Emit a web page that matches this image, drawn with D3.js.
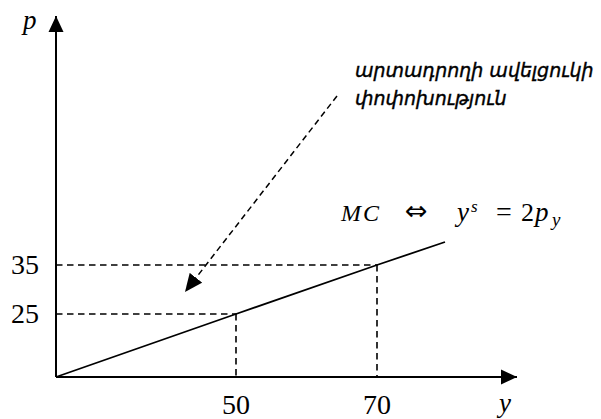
<!DOCTYPE html>
<html>
<head>
<meta charset="utf-8">
<script src="https://cdn.jsdelivr.net/npm/d3@7"></script>
<style>
  html, body { margin: 0; padding: 0; background: #fff; }
  svg { display: block; }
  .math { font-family: "Liberation Serif", "DejaVu Serif", serif; }
</style>
</head>
<body>
<svg id="chart" width="601" height="419"></svg>
<script>
// Supply curve MC: y^s = 2 p  (schematic, non-uniform axes)
const quantities = [0, 50, 70, 80];
const prices     = [0, 25, 35, 40];
const xTickValues = [50, 70];
const yTickValues = [25, 35];
const xTickLabels = ["50", "70"];
const yTickLabels = ["25", "35"];
const noteLines = ["արտադրողի ավելցուկի", "փոփոխություն"];

const svg = d3.select("#chart");

// piecewise scales (the sketch is not drawn to scale)
const x = d3.scaleLinear().domain([0, 50, 70, 80]).range([56, 236, 377, 445]);
const y = d3.scaleLinear().domain([0, 25, 35, 40]).range([377, 314, 265, 242]);

const ink = "#000";

// arrowhead markers
const defs = svg.append("defs");
defs.append("marker")
  .attr("id", "axisHead").attr("viewBox", "0 0 16 16")
  .attr("refX", 16).attr("refY", 8)
  .attr("markerWidth", 16).attr("markerHeight", 16)
  .attr("markerUnits", "userSpaceOnUse").attr("orient", "auto")
  .append("path").attr("d", "M0,0.5 L16,8 L0,15.5 Z").attr("fill", ink);
defs.append("marker")
  .attr("id", "noteHead").attr("viewBox", "0 0 18 16")
  .attr("refX", 18).attr("refY", 8)
  .attr("markerWidth", 18).attr("markerHeight", 16)
  .attr("markerUnits", "userSpaceOnUse").attr("orient", "auto")
  .append("path").attr("d", "M0,0 L18,8 L0,16 Z").attr("fill", ink);

// axes
svg.append("line")
  .attr("x1", x(0)).attr("y1", y(0)).attr("x2", 517).attr("y2", y(0))
  .attr("stroke", ink).attr("stroke-width", 2).attr("marker-end", "url(#axisHead)");
svg.append("line")
  .attr("x1", x(0)).attr("y1", y(0)).attr("x2", x(0)).attr("y2", 16)
  .attr("stroke", ink).attr("stroke-width", 2).attr("marker-end", "url(#axisHead)");

// axis names
svg.append("text").attr("class", "math")
  .attr("x", 23).attr("y", 29).attr("font-size", 27).attr("font-style", "italic")
  .text("p");
svg.append("text").attr("class", "math")
  .attr("x", 499).attr("y", 412).attr("font-size", 27).attr("font-style", "italic")
  .text("y");

// guide lines to the two marked points
const dash = "6.5,4.5";
const marked = [0, 1].map(i => ({ q: xTickValues[i], p: yTickValues[i] }));
marked.forEach(d => {
  svg.append("line")
    .attr("x1", x(0)).attr("y1", y(d.p)).attr("x2", x(d.q)).attr("y2", y(d.p))
    .attr("stroke", ink).attr("stroke-width", 1.6).attr("stroke-dasharray", dash);
  svg.append("line")
    .attr("x1", x(d.q)).attr("y1", y(d.p)).attr("x2", x(d.q)).attr("y2", y(0))
    .attr("stroke", ink).attr("stroke-width", 1.6).attr("stroke-dasharray", dash);
});

// supply line
const line = d3.line().x((d, i) => x(quantities[i])).y(d => y(d));
svg.append("path")
  .datum(prices)
  .attr("d", line)
  .attr("fill", "none").attr("stroke", ink).attr("stroke-width", 1.8);

// tick labels
svg.selectAll(".ylab").data(yTickValues).enter().append("text")
  .attr("class", "math")
  .attr("x", 39).attr("y", d => y(d) + 9)
  .attr("text-anchor", "end").attr("font-size", 28)
  .text((d, i) => yTickLabels[i]);
svg.selectAll(".xlab").data(xTickValues).enter().append("text")
  .attr("class", "math")
  .attr("x", d => x(d)).attr("y", 414)
  .attr("text-anchor", "middle").attr("font-size", 28)
  .text((d, i) => xTickLabels[i]);

// curve label
const eqY = 221;
const eq = svg.append("g").attr("class", "math");
eq.append("text").attr("x", 341).attr("y", eqY).attr("font-size", 24)
  .attr("font-style", "italic").attr("letter-spacing", 2).text("MC");
eq.append("text").attr("x", 405).attr("y", eqY - 1).attr("font-size", 27)
  .attr("font-family", "DejaVu Sans, sans-serif").text("⇔");
eq.append("text").attr("x", 457).attr("y", eqY).attr("font-size", 27)
  .attr("font-style", "italic").text("y");
eq.append("text").attr("x", 471).attr("y", eqY - 9).attr("font-size", 17)
  .attr("font-style", "italic").text("s");
eq.append("text").attr("x", 496).attr("y", eqY).attr("font-size", 28).text("=");
eq.append("text").attr("x", 521).attr("y", eqY).attr("font-size", 26).text("2");
eq.append("text").attr("x", 535).attr("y", eqY).attr("font-size", 27)
  .attr("font-style", "italic").text("p");
eq.append("text").attr("x", 552).attr("y", eqY + 5).attr("font-size", 19)
  .attr("font-style", "italic").text("y");

// annotation
svg.append("line")
  .attr("x1", 337).attr("y1", 96).attr("x2", 185).attr("y2", 292)
  .attr("stroke", ink).attr("stroke-width", 1.5).attr("stroke-dasharray", "6,4")
  .attr("marker-end", "url(#noteHead)");

svg.selectAll(".note").data(noteLines).enter().append("text")
  .attr("class", "note")
  .attr("x", 355).attr("y", (d, i) => 77 + i * 28)
  .attr("font-family", "DejaVu Sans, sans-serif")
  .attr("font-style", "italic").attr("font-size", 19)
  .attr("stroke", ink).attr("stroke-width", 0.4)
  .text(d => d);
</script>
</body>
</html>
